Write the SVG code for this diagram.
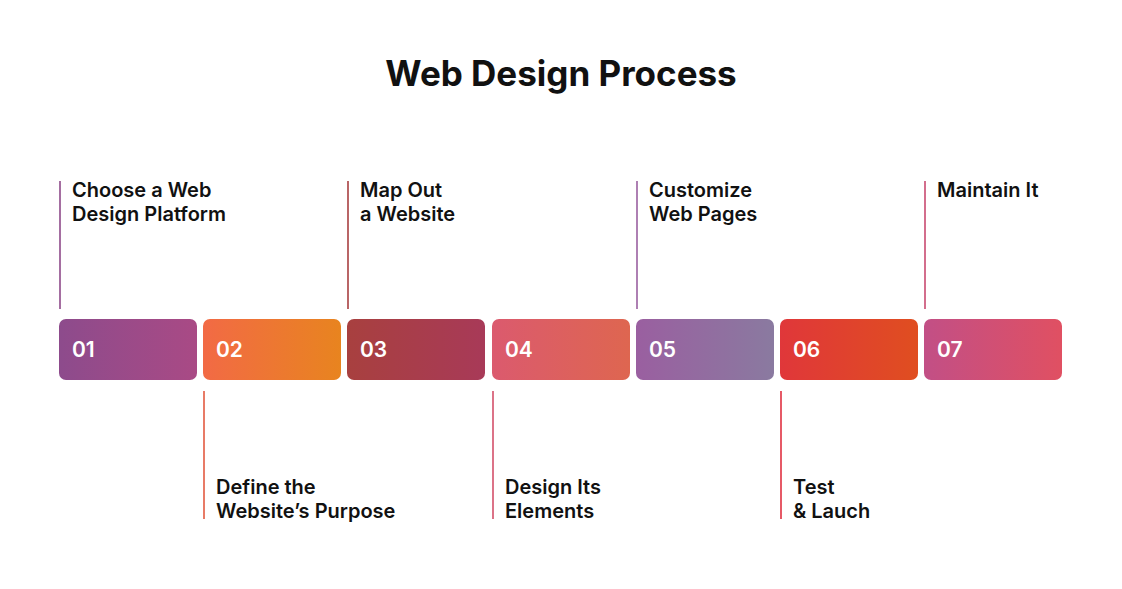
<svg xmlns="http://www.w3.org/2000/svg" width="1122" height="589" viewBox="0 0 1122 589">
<style>
.t{font-family:"Inter","Liberation Sans",sans-serif;font-weight:600;font-size:20px;fill:#111}
.n{font-family:"Inter","Liberation Sans",sans-serif;font-weight:600;font-size:21px;fill:#fff}
.h{font-family:"Inter","Liberation Sans",sans-serif;font-weight:700;font-size:35px;fill:#111}
line{stroke-width:1.6}
</style>
<defs>
<linearGradient id="g1"><stop offset="0" stop-color="#8d4b8c"/><stop offset="1" stop-color="#a94a85"/></linearGradient>
<linearGradient id="g2"><stop offset="0" stop-color="#f26a45"/><stop offset="1" stop-color="#e8841f"/></linearGradient>
<linearGradient id="g3"><stop offset="0" stop-color="#a8403f"/><stop offset="1" stop-color="#a83a58"/></linearGradient>
<linearGradient id="g4"><stop offset="0" stop-color="#db5a6e"/><stop offset="1" stop-color="#de6650"/></linearGradient>
<linearGradient id="g5"><stop offset="0" stop-color="#9a5fa0"/><stop offset="1" stop-color="#8a7aa0"/></linearGradient>
<linearGradient id="g6"><stop offset="0" stop-color="#e0373a"/><stop offset="1" stop-color="#e04e20"/></linearGradient>
<linearGradient id="g7"><stop offset="0" stop-color="#c24f86"/><stop offset="1" stop-color="#e05062"/></linearGradient>
</defs>
<text class="h" x="561" y="86" text-anchor="middle">Web Design Process</text>
<g id="connectors">
<line x1="60" y1="181" x2="60" y2="309" stroke="#8e4a8a"/>
<line x1="204" y1="391" x2="204" y2="519" stroke="#e35a40"/>
<line x1="348" y1="181" x2="348" y2="309" stroke="#a83f40"/>
<line x1="493" y1="391" x2="493" y2="519" stroke="#d4506a"/>
<line x1="637" y1="181" x2="637" y2="309" stroke="#9a60a0"/>
<line x1="781" y1="391" x2="781" y2="519" stroke="#e03040"/>
<line x1="925" y1="181" x2="925" y2="309" stroke="#c84a70"/>
</g>
<g id="n1"><rect x="59" y="319" width="138" height="61" rx="7" fill="url(#g1)"/><text class="n" x="72" y="357">01</text>
<text class="t" x="72" y="197">Choose a Web</text><text class="t" x="72" y="221">Design Platform</text></g>
<g id="n2"><rect x="203" y="319" width="138" height="61" rx="7" fill="url(#g2)"/><text class="n" x="216" y="357">02</text>
<text class="t" x="216" y="494">Define the</text><text class="t" x="216" y="518">Website’s Purpose</text></g>
<g id="n3"><rect x="347" y="319" width="138" height="61" rx="7" fill="url(#g3)"/><text class="n" x="360" y="357">03</text>
<text class="t" x="360" y="197">Map Out</text><text class="t" x="360" y="221">a Website</text></g>
<g id="n4"><rect x="492" y="319" width="138" height="61" rx="7" fill="url(#g4)"/><text class="n" x="505" y="357">04</text>
<text class="t" x="505" y="494">Design Its</text><text class="t" x="505" y="518">Elements</text></g>
<g id="n5"><rect x="636" y="319" width="138" height="61" rx="7" fill="url(#g5)"/><text class="n" x="649" y="357">05</text>
<text class="t" x="649" y="197">Customize</text><text class="t" x="649" y="221">Web Pages</text></g>
<g id="n6"><rect x="780" y="319" width="138" height="61" rx="7" fill="url(#g6)"/><text class="n" x="793" y="357">06</text>
<text class="t" x="793" y="494">Test</text><text class="t" x="793" y="518">&amp; Lauch</text></g>
<g id="n7"><rect x="924" y="319" width="138" height="61" rx="7" fill="url(#g7)"/><text class="n" x="937" y="357">07</text>
<text class="t" x="937" y="197">Maintain It</text></g>
</svg>
